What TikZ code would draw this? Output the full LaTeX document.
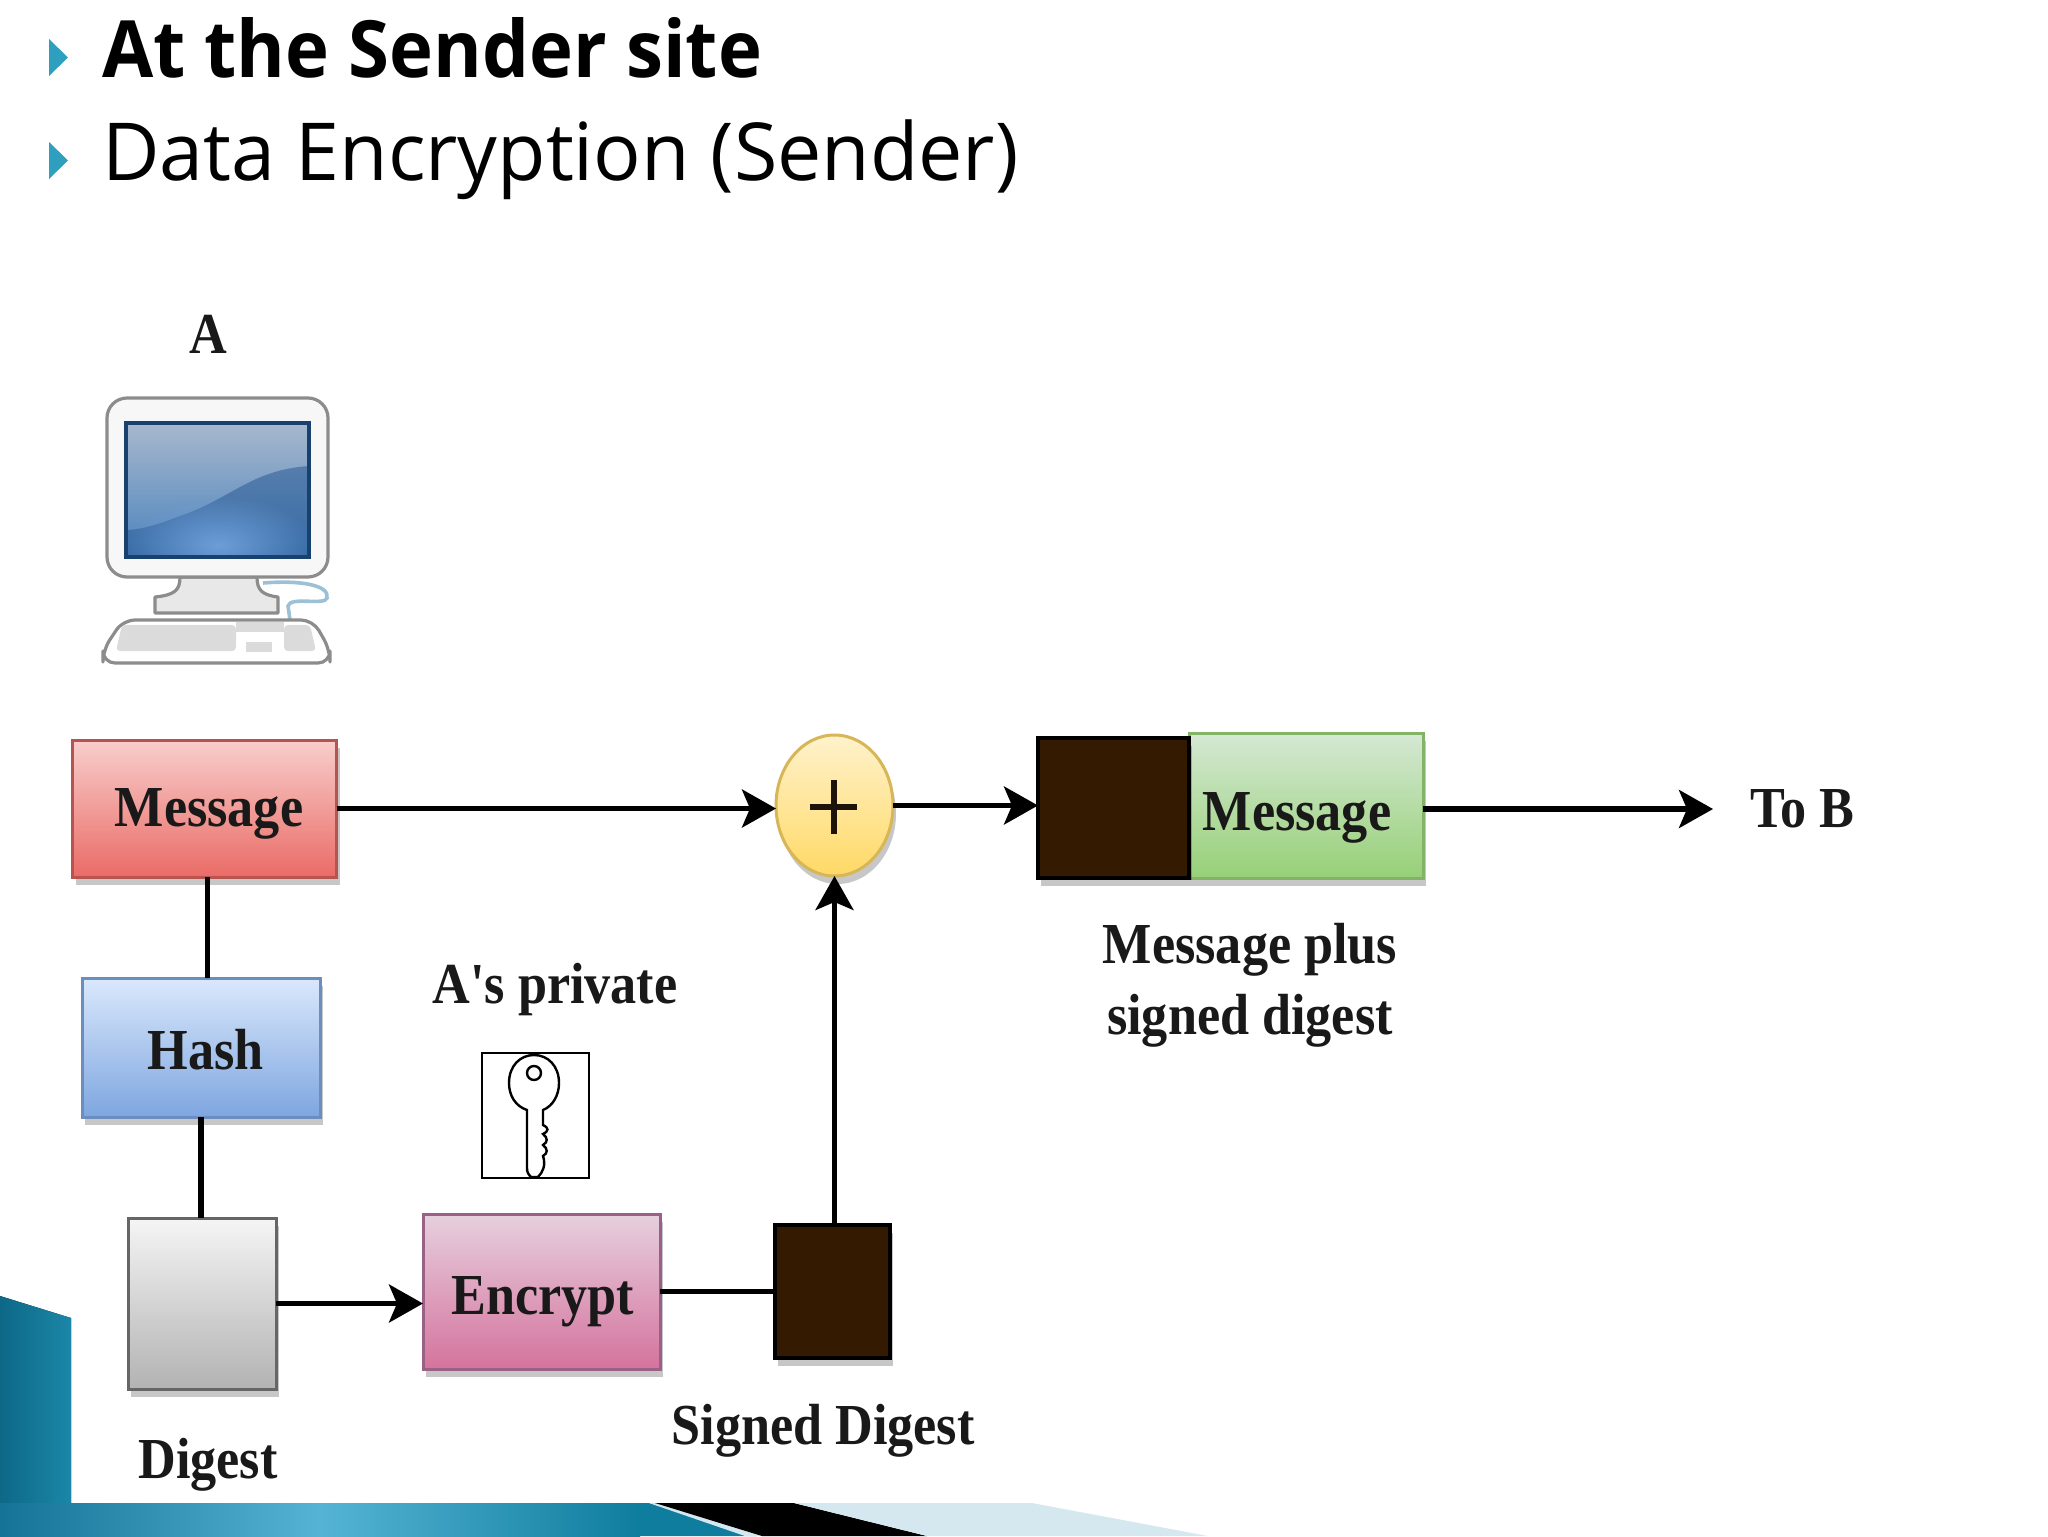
\documentclass[tikz,border=0pt]{standalone}
\usepackage{fontspec}
\setmainfont{Open Sans}
\newfontfamily\dfont[FakeStretch=0.9]{Liberation Serif}
\newfontfamily\hbold[FakeStretch=0.94]{Open Sans Bold}
\newfontfamily\hreg[FakeStretch=0.987]{Open Sans}
\usetikzlibrary{arrows.meta,shadows,calc,shapes.geometric,fadings}
\tikzfading[name=softglow,inner color=transparent!0,outer color=transparent!100]
\definecolor{bullet}{HTML}{2E9FBF}
\definecolor{darkbrown}{HTML}{331A00}
\definecolor{tealA}{HTML}{0E6887}
\definecolor{tealB}{HTML}{1B87A8}
\definecolor{tealC}{HTML}{147396}
\definecolor{tealD}{HTML}{55B4D5}
\definecolor{tealE}{HTML}{0F7D9E}
\definecolor{paleblue}{HTML}{D5E8F0}
\definecolor{cable}{HTML}{9CC0D6}
\definecolor{scrT}{HTML}{A8B8CE}
\definecolor{scrB}{HTML}{4A82BC}
\definecolor{scrW}{HTML}{235591}
\definecolor{scrE}{HTML}{19416E}
\definecolor{scrH}{HTML}{6E9ED8}
\definecolor{redS}{HTML}{B85450}\definecolor{redT}{HTML}{F8CECC}\definecolor{redB}{HTML}{EA6B66}
\definecolor{bluS}{HTML}{6C8EBF}\definecolor{bluT}{HTML}{DAE8FC}\definecolor{bluB}{HTML}{7EA6E0}
\definecolor{pnkS}{HTML}{996185}\definecolor{pnkT}{HTML}{E6D0DE}\definecolor{pnkB}{HTML}{D5739D}
\definecolor{yelS}{HTML}{D6B656}\definecolor{yelT}{HTML}{FFF2CC}\definecolor{yelB}{HTML}{FFD966}
\definecolor{grnS}{HTML}{82B366}\definecolor{grnT}{HTML}{D5E8D4}\definecolor{grnB}{HTML}{97D077}
\tikzset{
  head/.style={inner sep=0pt,outer sep=0pt,anchor=base west,font=\hreg\fontsize{40}{48}\selectfont},
  lab/.style={inner sep=0pt,outer sep=0pt,anchor=base,font=\dfont\bfseries\fontsize{29}{34}\selectfont,text=black!90},
  box/.style={draw,line width=1.5pt,inner sep=0pt,outer sep=0pt,drop shadow={shadow xshift=1.5pt,shadow yshift=-4pt,opacity=.22,fill=black}},
  con/.style={draw=black,line width=2.6pt},
  arr/.style={con,-{Stealth[length=17pt,width=19pt,inset=4pt]}},
  mon/.style={draw=black!45,line width=1.6pt,line join=round},
}
\begin{document}
\begin{tikzpicture}[x=0.5pt,y=-0.5pt]
\useasboundingbox (0,0) rectangle (2048,1536);
\fill[white] (0,0) rectangle (2048,1536);

% slide decoration
\fill[left color=tealA,right color=tealB] (0,1296) -- (71,1318) -- (71,1503) -- (0,1503) -- cycle;
\fill[left color=tealC,right color=tealE,middle color=tealD] (0,1503) rectangle (640,1536);
\fill[tealE] (640,1503) -- (649,1503) -- (757,1536) -- (640,1536) -- cycle;
\fill[paleblue] (649,1503) -- (660,1503) -- (770,1536) -- (745,1536) -- cycle;
\fill[black] (655,1503) -- (794,1503) -- (927,1536) -- (762,1536) -- cycle;
\fill[paleblue] (794,1503) -- (1032,1503) -- (1208,1536) -- (927,1536) -- cycle;

% header
\fill[bullet] (49,39) -- (68,57.5) -- (49,76) -- cycle;
\fill[bullet] (49,142) -- (68,160.5) -- (49,179) -- cycle;
\node[head,font=\hbold\fontsize{39.5}{48}\selectfont] (t1) at (102,78) {At the Sender site};
\node[head] (t2) at (102,180) {Data Encryption (Sender)};

% computer
\node[lab] (labA) at (208,353) {A};
\draw[mon,fill=black!9] (180,577) .. controls (180,590) and (175,595) .. (155,597) -- (155,613) -- (278,613) -- (278,597) .. controls (262,595) and (257,590) .. (257,577) -- cycle;
\draw[draw=cable,line width=1.8pt,fill=none] (263,583) .. controls (300,580) and (330,585) .. (327,598) .. controls (325,606) and (290,596) .. (288,606) -- (290,620);
\draw[mon,fill=white,rounded corners=6pt] (218,620) -- (313,620) -- (330,650) -- (330,663) -- (103,663) -- (103,650) -- (123,620) -- cycle;
\fill[black!14,rounded corners=2pt] (122,625) -- (236,625) -- (236,651) -- (116,651) -- cycle;
\fill[black!14] (246,642) rectangle (272,652);
\fill[black!14,rounded corners=2pt] (284,625) -- (310,625) -- (316,651) -- (284,651) -- cycle;
\fill[black!14] (236,622) rectangle (284,632);
\draw[mon,fill=black!3,rounded corners=10pt] (107,398) rectangle (328,577);
\fill[top color=scrT,bottom color=scrB] (126,423) rectangle (309,557);
\begin{scope}
\clip (126,423) rectangle (309,557);
\fill[scrW,opacity=.5] (177,517) .. controls (230,500) and (250,470) .. (309,466) -- (309,557) -- (126,557) -- (126,530) .. controls (140,530) and (160,524) .. (177,517) -- cycle;
\fill[scrH,path fading=softglow] (218,545) ellipse [x radius=95,y radius=50];
\end{scope}
\draw[draw=scrE,line width=1.8pt] (126,423) rectangle (309,557);

% boxes
\node[box,draw=redS,top color=redT,bottom color=redB,minimum width=132pt,minimum height=68.5pt] (msg) at (204.5,808.5) {};
\node[lab] (msgT) at (209,826) {Message};
\node[box,draw=bluS,top color=bluT,bottom color=bluB,minimum width=119pt,minimum height=69.5pt] (hash) at (201,1047.5) {};
\node[lab] (hashT) at (206,1069) {Hash};
\node[box,draw=black!60,top color=black!4,bottom color=black!30,minimum width=74pt,minimum height=85.5pt] (digest) at (202,1303.5) {};
\node[lab] (digestT) at (208,1478) {Digest};
\node[box,draw=pnkS,top color=pnkT,bottom color=pnkB,minimum width=118.5pt,minimum height=77.5pt] (enc) at (541.5,1291.5) {};
\node[lab] (encT) at (543,1314) {Encrypt};
\node[box,draw=black,line width=2.2pt,fill=darkbrown,minimum width=57.5pt,minimum height=66.5pt] (sq) at (832.5,1291.5) {};
\node[lab] (sqT) at (823,1444) {Signed Digest};
\node[box,ellipse,draw=yelS,top color=yelT,bottom color=yelB,minimum width=58.5pt,minimum height=70.5pt] (plus) at (834.5,805.5) {};
\draw[line width=3pt,draw=black!85!brown] (810,807) -- (857,807) (833.5,780) -- (833.5,834);
\node[box,draw=grnS,top color=grnT,bottom color=grnB,minimum width=117pt,minimum height=72.5pt] (green) at (1306,805.5) {};
\node[box,draw=black,line width=2.2pt,fill=darkbrown,minimum width=75.5pt,minimum height=70pt] (blk) at (1113.5,808) {};
\node[lab] (greenT) at (1297,830) {Message};
\node[lab] (plusA) at (1250,963) {Message plus};
\node[lab] (plusB) at (1250,1034) {signed digest};
\node[lab] (tob) at (1802,827) {To B};
\coordinate (tip) at (1713,809);
\coordinate (msgdown) at (207.5,877);

% key
\node[lab] (keyT) at (555,1003) {A's private};
\node[draw=black,line width=1.4pt,fill=white,inner sep=0pt,outer sep=0pt,minimum width=53.5pt,minimum height=62.5pt] (keybox) at (535.5,1115.5) {};
\draw[black,line width=1.2pt,fill=none] (534,1073) circle[radius=7];
\draw[black,line width=1.2pt,fill=none] (527,1110) .. controls (515,1106) and (509,1095) .. (509,1083) .. controls (509,1066) and (520,1055) .. (534,1055) .. controls (548,1055) and (559,1066) .. (559,1083) .. controls (559,1095) and (553,1106) .. (543,1110) -- (543,1125) .. controls (549,1128) and (549,1131) .. (543,1134) .. controls (548,1138) and (548,1142) .. (543,1145) .. controls (548,1149) and (548,1153) .. (543,1156) .. controls (546,1165) and (543,1172) .. (538,1177) -- (531,1177) .. controls (528,1174) and (527,1172) .. (527,1168) -- cycle;

% connectors
\draw[con] (msgdown) -- (msgdown |- hash.north);
\draw[con] (hash.south) -- (hash.south |- digest.north);
\draw[arr] (msg.east) -- (msg.east -| plus.west);
\draw[arr] (digest.east) -- (digest.east -| enc.west);
\draw[con] (enc.east) -- (enc.east -| sq.west);
\draw[arr] (plus.south |- sq.north) -- (plus.south);
\draw[arr] (plus.east) -- (plus.east -| blk.west);
\draw[arr] (green.east |- tip) -- (tip);
\end{tikzpicture}
\end{document}
